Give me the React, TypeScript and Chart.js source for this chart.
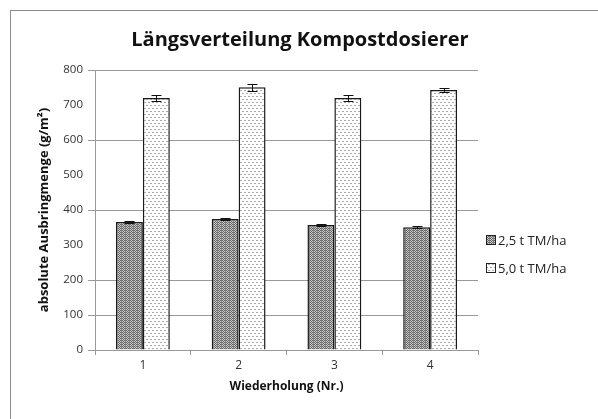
import React, { useEffect, useRef } from "react";
import { Chart, registerables } from "chart.js";

Chart.register(...registerables);

const categories = ["1", "2", "3", "4"];
const seriesLabels = ["2,5 t TM/ha", "5,0 t TM/ha"];
const series1 = [366, 374, 357, 351];
const errors1 = [3, 3, 4, 2];
const series2 = [720, 751, 720, 743];
const errors2 = [9, 10, 9, 7];
const errorSets = [errors1, errors2];
const hiddenGrid = [300, 500, 700];

const FONT = "'Open Sans', Lato, sans-serif";

function makePattern(kind: number): CanvasPattern | string {
  const c = document.createElement("canvas");
  const ctx = c.getContext("2d");
  if (!ctx) return "#999";
  if (kind === 0) {
    c.width = 4;
    c.height = 4;
    ctx.fillStyle = "#cccccc";
    ctx.fillRect(0, 0, 4, 4);
    ctx.fillStyle = "#636363";
    for (let y = 0; y < 4; y++) {
      for (let x = 0; x < 4; x++) {
        if ((x + y) % 2 === 0) ctx.fillRect(x, y, 1, 1);
      }
    }
    ctx.fillStyle = "#808080";
    ctx.fillRect(1, 0, 1, 4);
  } else {
    c.width = 8;
    c.height = 6;
    ctx.fillStyle = "#ffffff";
    ctx.fillRect(0, 0, 8, 6);
    ctx.fillStyle = "#a8a8a8";
    ctx.fillRect(0, 0, 2, 1);
    ctx.fillRect(4, 0, 2, 1);
    ctx.fillRect(2, 3, 2, 1);
    ctx.fillRect(6, 3, 2, 1);
  }
  const p = ctx.createPattern(c, "repeat");
  return p || "#999";
}

export default function App() {
  const ref = useRef<HTMLCanvasElement>(null);

  useEffect(() => {
    if (!ref.current) return;
    const pats = [makePattern(0), makePattern(1)];

    const framePlugin = {
      id: "frameTitleLegend",
      beforeDraw(chart: any) {
        const ctx = chart.ctx;
        ctx.save();
        ctx.fillStyle = "#fff";
        ctx.fillRect(0, 0, chart.width, chart.height);
        ctx.strokeStyle = "#8c8c8c";
        ctx.lineWidth = 1;
        ctx.strokeRect(10.5, 10.5, 800, 800);
        ctx.restore();
      },
      afterDraw(chart: any) {
        const ctx = chart.ctx;
        ctx.save();
        ctx.fillStyle = "#111";
        ctx.font = `bold 20px ${FONT}`;
        ctx.textAlign = "center";
        ctx.textBaseline = "middle";
        ctx.fillText("Längsverteilung Kompostdosierer", 300, 40);
        ctx.font = `13px ${FONT}`;
        ctx.textAlign = "left";
        chart.data.datasets.forEach((ds: any, i: number) => {
          const y = 240 + i * 28;
          ctx.fillStyle = ds.backgroundColor;
          ctx.fillRect(486, y - 4.5, 9, 9);
          ctx.strokeStyle = "#222";
          ctx.lineWidth = 1;
          ctx.strokeRect(486.5, y - 4.5, 9, 9);
          ctx.fillStyle = "#222";
          ctx.fillText(ds.label, 498, y + 1);
        });
        ctx.restore();
      },
    };

    const errorPlugin = {
      id: "errorBars",
      afterDatasetsDraw(chart: any) {
        const ctx = chart.ctx;
        const yScale = chart.scales.y;
        ctx.save();
        ctx.strokeStyle = "#111";
        ctx.lineWidth = 1;
        chart.data.datasets.forEach((ds: any, i: number) => {
          const meta = chart.getDatasetMeta(i);
          const errs = errorSets[i];
          meta.data.forEach((bar: any, j: number) => {
            const v = ds.data[j];
            const e = errs[j];
            const x = Math.round(bar.x) + 0.5;
            const yT = Math.round(yScale.getPixelForValue(v + e)) + 0.5;
            const yB = Math.round(yScale.getPixelForValue(v - e)) + 0.5;
            ctx.beginPath();
            ctx.moveTo(x, yT);
            ctx.lineTo(x, yB);
            ctx.moveTo(x - 5, yT);
            ctx.lineTo(x + 5, yT);
            ctx.moveTo(x - 5, yB);
            ctx.lineTo(x + 5, yB);
            ctx.stroke();
          });
        });
        ctx.restore();
      },
    };

    const chart = new Chart(ref.current, {
      type: "bar",
      data: {
        labels: categories,
        datasets: [
          {
            label: seriesLabels[0],
            data: series1,
            backgroundColor: pats[0] as any,
            borderColor: "#1a1a1a",
            borderWidth: 1.5,
          },
          {
            label: seriesLabels[1],
            data: series2,
            backgroundColor: pats[1] as any,
            borderColor: "#1a1a1a",
            borderWidth: 1.5,
          },
        ],
      },
      options: {
        responsive: false,
        animation: false,
        layout: { padding: { left: 12, right: 120, top: 70, bottom: 0 } },
        datasets: {
          bar: { categoryPercentage: 0.5625, barPercentage: 1 },
        },
        plugins: {
          legend: { display: false },
          title: { display: false },
          tooltip: { enabled: false },
        },
        scales: {
          x: {
            afterFit: (s: any) => {
              s.height = 69;
            },
            grid: {
              display: true,
              drawOnChartArea: false,
              drawTicks: true,
              tickLength: 5,
              color: "#9a9a9a",
              offset: true,
            },
            border: { display: true, color: "#9a9a9a" },
            ticks: {
              color: "#333",
              font: { family: FONT, size: 12 },
              padding: 3,
            },
            title: {
              display: true,
              text: "Wiederholung (Nr.)",
              color: "#111",
              font: { family: FONT, size: 12, weight: "bold" },
              padding: { top: 25, bottom: 25 },
            },
          },
          y: {
            min: 0,
            max: 800,
            afterFit: (s: any) => {
              s.width = 83;
            },
            grid: {
              color: (c: any) =>
                c.tick && hiddenGrid.includes(c.tick.value) ? "rgba(0,0,0,0)" : "#9a9a9a",
              tickLength: 7,
            },
            border: { display: true, color: "#9a9a9a" },
            ticks: {
              stepSize: 100,
              color: "#333",
              font: { family: FONT, size: 11.5 },
              padding: 5,
            },
            title: {
              display: true,
              text: "absolute Ausbringmenge (g/m²)",
              color: "#111",
              font: { family: FONT, size: 13, weight: "bold" },
              padding: { top: 24, bottom: 24 },
            },
          },
        },
      },
      plugins: [framePlugin, errorPlugin],
    });
    return () => chart.destroy();
  }, []);

  return (
    <div style={{ position: "absolute", left: 0, top: 0, width: 598, height: 419 }}>
      <canvas ref={ref} width={598} height={419} />
    </div>
  );
}
